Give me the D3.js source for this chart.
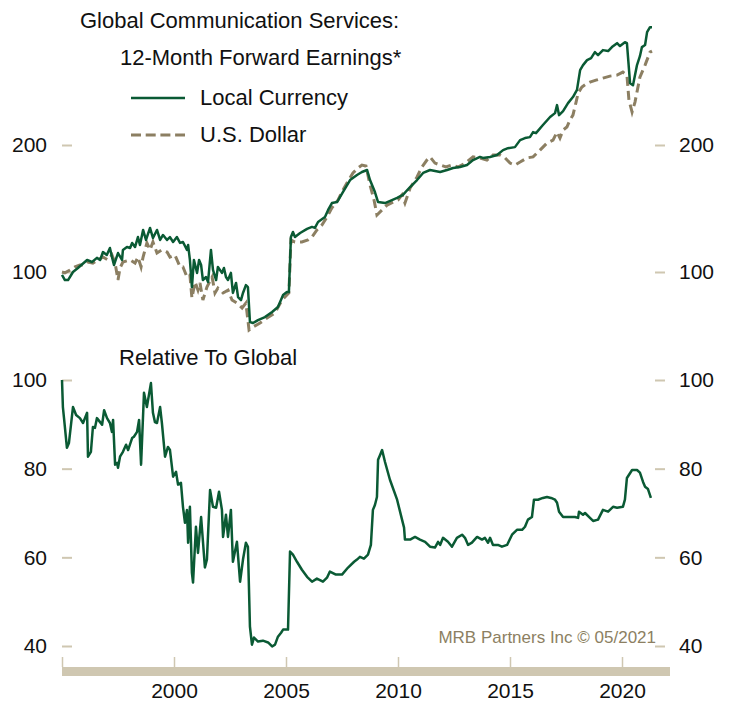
<!DOCTYPE html>
<html>
<head>
<meta charset="utf-8">
<script src="https://cdn.jsdelivr.net/npm/d3@7"></script>
<style>
  body { margin: 0; background: #fff; }
  svg { display: block; font-family: "Liberation Sans", Arial, sans-serif; }
</style>
</head>
<body>
<div id="chart"></div>
<script>
// 12-month forward earnings, rebased (decimal year, value)
const localCurrency = [
  [1995.0,98.4],[1995.13,95.7],[1995.27,95.7],[1995.49,100],[1995.71,102.2],[1996.12,106.8],[1996.34,105.6],
  [1996.56,108],[1996.7,106.8],[1996.83,111.5],[1997.0,109.7],[1997.14,114],[1997.23,108.5],[1997.32,103.9],
  [1997.5,110.9],[1997.68,106.8],[1997.72,112.8],[1997.9,114.6],[1998.04,114],[1998.13,117.2],[1998.26,114.6],
  [1998.39,121],[1998.48,115.9],[1998.62,125.8],[1998.75,119.1],[1998.93,127.2],[1999.06,120.4],[1999.24,125.8],
  [1999.38,119.1],[1999.51,122.4],[1999.69,119.1],[1999.82,121],[1999.96,117.8],[2000.13,121],[2000.27,117.2],
  [2000.4,117.8],[2000.58,112.8],[2000.63,115.9],[2000.71,106.8],[2000.8,92.1],[2000.89,106.8],[2001.03,99.5],
  [2001.12,106.8],[2001.21,103.9],[2001.29,95.7],[2001.43,97.3],[2001.52,94.7],[2001.65,112.8],[2001.74,101.1],
  [2001.88,95.7],[2001.96,102.8],[2002.14,99.5],[2002.23,102.2],[2002.32,97.3],[2002.41,95.7],[2002.54,99.5],
  [2002.63,89.2],[2002.77,94.2],[2002.86,87.2],[2002.99,85.8],[2003.08,89.2],[2003.21,93.1],[2003.3,92.1],
  [2003.39,76.1],[2003.53,75.7],[2003.75,76.9],[2004.06,78.2],[2004.38,80.4],[2004.64,82.6],[2004.87,88.2],
  [2005.04,89.7],[2005.13,89.7],[2005.22,121],[2005.31,124.4],[2005.4,121],[2005.63,123.7],[2005.94,126.5],
  [2006.16,127.9],[2006.29,127.2],[2006.43,131.4],[2006.74,135],[2006.88,140.3],[2007.05,145.7],[2007.28,146.5],
  [2007.54,154.7],[2007.86,165.2],[2008.17,169.8],[2008.39,172.6],[2008.62,174.5],[2008.75,165.2],[2008.97,154.7],
  [2009.11,146.5],[2009.42,145.7],[2009.73,148.1],[2009.96,149.8],[2010.22,152.3],[2010.54,159],[2010.85,165.2],
  [2011.12,171.7],[2011.43,174.5],[2011.88,172.6],[2012.19,174.5],[2012.46,176.4],[2012.77,177.4],[2013.08,179.3],
  [2013.35,184.2],[2013.66,187.4],[2013.79,186.4],[2014.11,187.4],[2014.42,189.4],[2014.69,194.5],[2014.91,196.6],
  [2015.22,197.7],[2015.45,205.4],[2015.67,207.7],[2015.89,208.8],[2016.03,214.6],[2016.16,213.4],[2016.47,223],
  [2016.79,233],[2017.01,238],[2017.1,248.6],[2017.19,235.4],[2017.37,240.6],[2017.59,251.4],[2017.81,259.8],
  [2017.99,270.2],[2018.13,301],[2018.26,309.3],[2018.44,317.8],[2018.62,321.3],[2018.79,332],[2018.93,326.6],
  [2019.15,335.7],[2019.38,333.9],[2019.55,341.3],[2019.78,348.7],[2019.91,343.2],[2020.13,350.6],[2020.22,348.7],
  [2020.36,280.3],[2020.49,277.2],[2020.67,309.3],[2020.8,324.8],[2020.89,341.3],[2021.03,345.1],[2021.12,370.3],
  [2021.25,380.5],[2021.34,380.5]
];

const usDollar = [
  [1995.0,100],[1995.13,99.5],[1995.36,101.1],[1995.58,102.8],[1995.8,103.9],[1996.03,103.9],[1996.16,105.6],
  [1996.38,105],[1996.61,106.8],[1996.83,108.5],[1997.05,106.8],[1997.23,109.7],[1997.37,105],[1997.5,95.7],
  [1997.59,102.2],[1997.72,105.6],[1998.04,106.8],[1998.26,105],[1998.39,108.5],[1998.53,102.8],[1998.62,108.5],
  [1998.79,117.2],[1998.93,112.8],[1999.06,117.8],[1999.24,110.9],[1999.46,112.8],[1999.69,111.5],[1999.82,108.5],
  [2000.04,109.7],[2000.27,102.8],[2000.4,102.8],[2000.58,97.3],[2000.71,98.4],[2000.8,86.8],[2000.94,94.7],
  [2001.07,90.6],[2001.16,94.2],[2001.29,85.8],[2001.47,92.1],[2001.7,97.3],[2001.83,89.2],[2001.96,91.6],
  [2002.19,89.2],[2002.41,90.6],[2002.59,85.8],[2002.81,84.4],[2003.04,82.2],[2003.21,84.4],[2003.35,72.9],
  [2003.53,74.1],[2003.84,75.7],[2004.15,77.8],[2004.51,80],[2004.82,85.8],[2005.04,88.2],[2005.13,89.2],
  [2005.22,119.1],[2005.4,117.8],[2005.71,117.8],[2005.98,119.1],[2006.16,121],[2006.38,125.8],[2006.61,129.3],
  [2006.83,135],[2007.05,141.9],[2007.32,148.1],[2007.54,156.4],[2007.72,162.5],[2007.99,171.7],[2008.21,176.4],
  [2008.39,179.3],[2008.57,178.4],[2008.75,160.8],[2008.93,148.1],[2009.06,136.5],[2009.29,140.3],[2009.51,144.1],
  [2009.78,146.5],[2010.0,148.1],[2010.18,152.3],[2010.31,145.7],[2010.54,158.1],[2010.85,168],[2011.07,177.4],
  [2011.29,184.2],[2011.43,187.4],[2011.65,181.2],[2011.88,179.3],[2012.14,177.4],[2012.41,179.3],[2012.68,177.4],
  [2013.0,181.2],[2013.35,187.4],[2013.66,186.4],[2013.97,184.2],[2014.24,189.4],[2014.55,189.4],[2014.78,186.4],
  [2015.0,181.2],[2015.22,179.3],[2015.45,182.2],[2015.76,186.4],[2016.03,187.4],[2016.34,194.5],[2016.65,202.1],
  [2016.92,205.4],[2017.1,214.6],[2017.23,207.7],[2017.37,217],[2017.54,220.6],[2017.68,229.3],[2017.81,235.4],
  [2017.95,252.8],[2018.04,265.4],[2018.21,274.5],[2018.39,278.8],[2018.57,281.9],[2018.84,284.9],[2019.15,288.1],
  [2019.46,291.3],[2019.78,292.9],[2020.04,297.7],[2020.22,292.9],[2020.31,255.6],[2020.45,239.3],[2020.58,252.8],
  [2020.8,289.7],[2021.03,309.3],[2021.25,332],[2021.34,333.9]
];

// relative to global, local currency
const relativeToGlobal = [
  [1995.0,100],[1995.04,93.9],[1995.09,91.4],[1995.22,84.7],[1995.31,85.8],[1995.49,93.9],[1995.63,92.1],
  [1995.8,91.4],[1995.94,90.3],[1996.12,92.6],[1996.16,82.7],[1996.29,83.8],[1996.38,89.4],[1996.47,89.2],
  [1996.56,91.4],[1996.7,90.5],[1996.79,89.9],[1996.88,93.2],[1997.01,91.4],[1997.14,90.3],[1997.23,88.3],
  [1997.28,91],[1997.37,80.9],[1997.46,81.3],[1997.5,80.2],[1997.59,82.7],[1997.72,83.8],[1997.86,85.4],
  [1997.95,84.2],[1998.13,86.9],[1998.21,87.2],[1998.35,88.3],[1998.44,91],[1998.53,80.9],[1998.66,97.1],
  [1998.79,93.9],[1998.97,99.3],[1999.06,92.6],[1999.15,90.5],[1999.24,90.3],[1999.38,93.9],[1999.46,90.3],
  [1999.6,82.7],[1999.73,84.9],[1999.82,84.2],[1999.96,78.2],[2000.09,79.3],[2000.18,76.4],[2000.31,76.8],
  [2000.4,71.4],[2000.49,67.8],[2000.58,70.7],[2000.63,63.3],[2000.71,71.4],[2000.8,56.5],[2000.85,54.3],
  [2000.98,66.9],[2001.07,61],[2001.21,69.1],[2001.38,57.7],[2001.47,59.5],[2001.61,75.2],[2001.74,71.4],
  [2001.88,71.2],[2002.01,74.8],[2002.14,70.7],[2002.19,64.6],[2002.32,69.6],[2002.41,64.6],[2002.54,70.7],
  [2002.63,59],[2002.81,63.5],[2002.95,54.5],[2003.08,59.5],[2003.21,63.3],[2003.3,62.4],[2003.39,44.4],
  [2003.48,40.3],[2003.57,41.9],[2003.75,41],[2003.97,41.2],[2004.2,40.8],[2004.38,39.9],[2004.51,40.3],
  [2004.64,42.1],[2004.78,43],[2004.87,43.7],[2005.09,43.7],[2005.18,61.3],[2005.31,60.6],[2005.49,59],
  [2005.71,57.2],[2005.94,55.6],[2006.16,54.5],[2006.38,55.2],[2006.65,54.5],[2006.83,55.4],[2006.96,56.8],
  [2007.23,56.1],[2007.5,56.1],[2007.77,57.7],[2008.04,59],[2008.17,59.5],[2008.3,60.1],[2008.48,59.7],
  [2008.66,60.6],[2008.79,62.8],[2008.88,70.7],[2008.97,71.8],[2009.06,73.6],[2009.11,82],[2009.2,83.1],
  [2009.29,84.2],[2009.42,81.5],[2009.64,77.5],[2009.96,73],[2010.18,68.5],[2010.27,66.7],[2010.31,64],
  [2010.54,64],[2010.76,64.6],[2010.98,64],[2011.21,63.5],[2011.43,62.4],[2011.65,62.2],[2011.79,63.5],
  [2011.88,62.8],[2012.01,64.4],[2012.23,63.5],[2012.41,62.4],[2012.63,64.4],[2012.86,65.1],[2012.99,64.4],
  [2013.13,62.8],[2013.3,63.3],[2013.53,64.6],[2013.75,64],[2013.88,64.4],[2014.02,63.3],[2014.11,64.4],
  [2014.24,62.8],[2014.46,62.8],[2014.64,62.4],[2014.87,62.8],[2015.09,65.1],[2015.31,66.2],[2015.54,66.2],
  [2015.67,66.9],[2015.8,68.5],[2015.98,69.1],[2016.07,73],[2016.25,73],[2016.47,73.4],[2016.65,73.6],
  [2016.83,73.4],[2017.01,73],[2017.1,72.3],[2017.19,70.3],[2017.37,69.1],[2017.68,69.1],[2017.9,69.1],
  [2018.04,68.9],[2018.08,70.3],[2018.26,69.6],[2018.35,70],[2018.57,68.9],[2018.71,68.2],[2018.93,68.5],
  [2019.15,70.7],[2019.38,70.3],[2019.6,71.4],[2019.78,71.2],[2020.04,71.4],[2020.13,73],[2020.22,77.9],
  [2020.45,79.7],[2020.67,79.7],[2020.8,79.1],[2020.94,77],[2021.03,75.9],[2021.16,75.4],[2021.29,73.4]
];

const topTicks = [100, 200];
const bottomTicks = [40, 60, 80, 100];
const yearTicks = [1995, 2000, 2005, 2010, 2015, 2020];

const width = 733, height = 709;
const green = "#0a5a34", tan = "#8c7f62", tickTan = "#cfc7b1";

const svg = d3.select("#chart").append("svg")
  .attr("width", width).attr("height", height);

const x = d3.scaleLinear().domain([1995, 2020]).range([62, 622]);
const yTop = d3.scaleLog().domain([100, 200]).range([272, 145]);
const yBot = d3.scaleLinear().domain([40, 100]).range([646, 380]);

function styleAxis(g, size) {
  g.select(".domain").remove();
  g.selectAll(".tick line").attr("stroke", tickTan).attr("stroke-width", 2);
  g.selectAll(".tick text").attr("fill", "#111").style("font-size", size + "px");
}

// y axes, both sides
[[yTop, topTicks], [yBot, bottomTicks]].forEach(function(d) {
  svg.append("g").attr("transform", "translate(72,0)")
    .call(d3.axisLeft(d[0]).tickValues(d[1]).tickFormat(d3.format("d")).tickSize(10).tickPadding(15))
    .call(styleAxis, 21);
  svg.append("g").attr("transform", "translate(655,0)")
    .call(d3.axisRight(d[0]).tickValues(d[1]).tickFormat(d3.format("d")).tickSize(10).tickPadding(14))
    .call(styleAxis, 21);
});

// x axis: tan band with ticks above it
svg.append("rect").attr("x", 62).attr("y", 667).attr("width", 608).attr("height", 9).attr("fill", tickTan);
svg.append("g").attr("transform", "translate(0,667)")
  .call(d3.axisTop(x).tickValues(yearTicks).tickFormat("").tickSize(10))
  .call(styleAxis, 21)
  .selectAll(".tick line").attr("stroke-width", 1.5);
svg.append("g").attr("transform", "translate(0,676)")
  .call(d3.axisBottom(x).tickValues(yearTicks.slice(1)).tickFormat(d3.format("d")).tickSize(0).tickPadding(7))
  .call(styleAxis, 21);

const lineTop = d3.line().x(d => x(d[0])).y(d => yTop(d[1]));
const lineBot = d3.line().x(d => x(d[0])).y(d => yBot(d[1]));

svg.append("path").datum(usDollar).attr("d", lineTop)
  .attr("fill", "none").attr("stroke", tan).attr("stroke-width", 3).attr("stroke-dasharray", "9,5");
svg.append("path").datum(localCurrency).attr("d", lineTop)
  .attr("fill", "none").attr("stroke", green).attr("stroke-width", 2.5).attr("stroke-linejoin", "round");
svg.append("path").datum(relativeToGlobal).attr("d", lineBot)
  .attr("fill", "none").attr("stroke", green).attr("stroke-width", 2.5).attr("stroke-linejoin", "round");

// titles and legend
const txt = svg.append("g").attr("fill", "#111").style("font-size", "22px");
txt.append("text").attr("x", 80).attr("y", 28).text("Global Communication Services:");
txt.append("text").attr("x", 120).attr("y", 65).text("12-Month Forward Earnings*");
txt.append("text").attr("x", 200).attr("y", 105).text("Local Currency");
txt.append("text").attr("x", 200).attr("y", 142).text("U.S. Dollar");
txt.append("text").attr("x", 119).attr("y", 365).text("Relative To Global");

svg.append("line").attr("x1", 131).attr("x2", 185).attr("y1", 98).attr("y2", 98)
  .attr("stroke", green).attr("stroke-width", 2.5);
svg.append("line").attr("x1", 131).attr("x2", 185).attr("y1", 135).attr("y2", 135)
  .attr("stroke", tan).attr("stroke-width", 3).attr("stroke-dasharray", "10,4.7");

svg.append("text").attr("x", 656).attr("y", 643).attr("text-anchor", "end")
  .attr("fill", tan).style("font-size", "17px").text("MRB Partners Inc © 05/2021");
</script>
</body>
</html>
